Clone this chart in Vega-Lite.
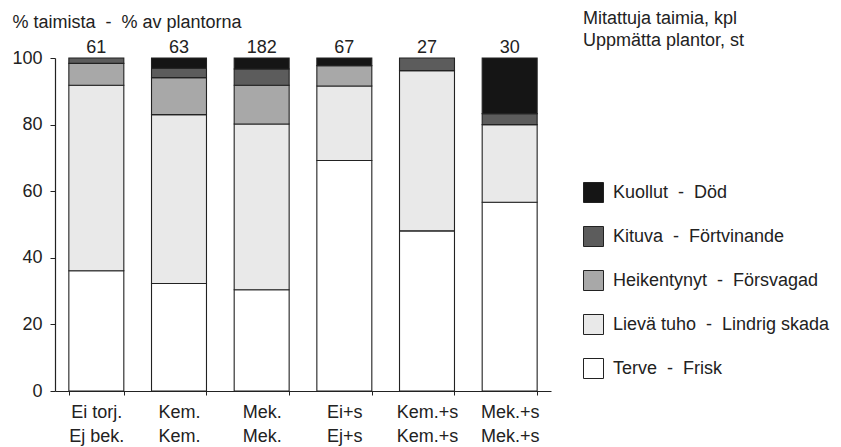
{
  "$schema": "https://vega.github.io/schema/vega-lite/v6.json",
  "autosize": "none",
  "width": 496,
  "height": 333,
  "padding": {"left": 55, "top": 58, "right": 290, "bottom": 56},
  "background": "white",
  "config": {
    "font": "Liberation Sans",
    "view": {"stroke": null},
    "axis": {"labelFontSize": 18, "labelColor": "#222", "domainColor": "#222", "tickColor": "#222", "grid": false}
  },
  "datasets": {
    "bars": [
      {"cat": "Ei torj.|Ej bek.", "state": "Terve\u00a0\u00a0-\u00a0\u00a0Frisk", "ord": 1, "pct": 36.1},
      {"cat": "Ei torj.|Ej bek.", "state": "Lievä tuho\u00a0\u00a0-\u00a0\u00a0Lindrig skada", "ord": 2, "pct": 55.7},
      {"cat": "Ei torj.|Ej bek.", "state": "Heikentynyt\u00a0\u00a0-\u00a0\u00a0Försvagad", "ord": 3, "pct": 6.6},
      {"cat": "Ei torj.|Ej bek.", "state": "Kituva\u00a0\u00a0-\u00a0\u00a0Förtvinande", "ord": 4, "pct": 1.6},
      {"cat": "Kem.|Kem.", "state": "Terve\u00a0\u00a0-\u00a0\u00a0Frisk", "ord": 1, "pct": 32.3},
      {"cat": "Kem.|Kem.", "state": "Lievä tuho\u00a0\u00a0-\u00a0\u00a0Lindrig skada", "ord": 2, "pct": 50.7},
      {"cat": "Kem.|Kem.", "state": "Heikentynyt\u00a0\u00a0-\u00a0\u00a0Försvagad", "ord": 3, "pct": 11.1},
      {"cat": "Kem.|Kem.", "state": "Kituva\u00a0\u00a0-\u00a0\u00a0Förtvinande", "ord": 4, "pct": 2.8},
      {"cat": "Kem.|Kem.", "state": "Kuollut\u00a0\u00a0-\u00a0\u00a0Död", "ord": 5, "pct": 3.1},
      {"cat": "Mek.|Mek.", "state": "Terve\u00a0\u00a0-\u00a0\u00a0Frisk", "ord": 1, "pct": 30.4},
      {"cat": "Mek.|Mek.", "state": "Lievä tuho\u00a0\u00a0-\u00a0\u00a0Lindrig skada", "ord": 2, "pct": 49.8},
      {"cat": "Mek.|Mek.", "state": "Heikentynyt\u00a0\u00a0-\u00a0\u00a0Försvagad", "ord": 3, "pct": 11.6},
      {"cat": "Mek.|Mek.", "state": "Kituva\u00a0\u00a0-\u00a0\u00a0Förtvinande", "ord": 4, "pct": 4.9},
      {"cat": "Mek.|Mek.", "state": "Kuollut\u00a0\u00a0-\u00a0\u00a0Död", "ord": 5, "pct": 3.3},
      {"cat": "Ei+s|Ej+s", "state": "Terve\u00a0\u00a0-\u00a0\u00a0Frisk", "ord": 1, "pct": 69.2},
      {"cat": "Ei+s|Ej+s", "state": "Lievä tuho\u00a0\u00a0-\u00a0\u00a0Lindrig skada", "ord": 2, "pct": 22.4},
      {"cat": "Ei+s|Ej+s", "state": "Heikentynyt\u00a0\u00a0-\u00a0\u00a0Försvagad", "ord": 3, "pct": 6.1},
      {"cat": "Ei+s|Ej+s", "state": "Kuollut\u00a0\u00a0-\u00a0\u00a0Död", "ord": 5, "pct": 2.3},
      {"cat": "Kem.+s|Kem.+s", "state": "Terve\u00a0\u00a0-\u00a0\u00a0Frisk", "ord": 1, "pct": 48.1},
      {"cat": "Kem.+s|Kem.+s", "state": "Lievä tuho\u00a0\u00a0-\u00a0\u00a0Lindrig skada", "ord": 2, "pct": 48.1},
      {"cat": "Kem.+s|Kem.+s", "state": "Kituva\u00a0\u00a0-\u00a0\u00a0Förtvinande", "ord": 4, "pct": 3.8},
      {"cat": "Mek.+s|Mek.+s", "state": "Terve\u00a0\u00a0-\u00a0\u00a0Frisk", "ord": 1, "pct": 56.7},
      {"cat": "Mek.+s|Mek.+s", "state": "Lievä tuho\u00a0\u00a0-\u00a0\u00a0Lindrig skada", "ord": 2, "pct": 23.3},
      {"cat": "Mek.+s|Mek.+s", "state": "Kituva\u00a0\u00a0-\u00a0\u00a0Förtvinande", "ord": 4, "pct": 3.3},
      {"cat": "Mek.+s|Mek.+s", "state": "Kuollut\u00a0\u00a0-\u00a0\u00a0Död", "ord": 5, "pct": 16.7}
    ],
    "counts": [
      {"cat": "Ei torj.|Ej bek.", "n": 61},
      {"cat": "Kem.|Kem.", "n": 63},
      {"cat": "Mek.|Mek.", "n": 182},
      {"cat": "Ei+s|Ej+s", "n": 67},
      {"cat": "Kem.+s|Kem.+s", "n": 27},
      {"cat": "Mek.+s|Mek.+s", "n": 30}
    ]
  },
  "encoding": {
    "x": {
      "field": "cat", "type": "nominal",
      "scale": {"domain": ["Ei torj.|Ej bek.", "Kem.|Kem.", "Mek.|Mek.", "Ei+s|Ej+s", "Kem.+s|Kem.+s", "Mek.+s|Mek.+s"], "paddingInner": 0.335, "paddingOuter": 0.1675},
      "axis": {"title": null, "labelAngle": 0, "labelExpr": "split(datum.label, '|')", "labelLineHeight": 24, "tickBand": "extent", "tickSize": 4, "labelPadding": 8, "labelBaseline": "top", "domainWidth": 1.2}
    }
  },
  "layer": [
    {
      "data": {"name": "bars"},
      "mark": {"type": "bar", "stroke": "#222", "strokeWidth": 1.1},
      "encoding": {
        "y": {
          "field": "pct", "type": "quantitative", "stack": "zero",
          "scale": {"domain": [0, 100], "nice": false},
          "axis": {"values": [0, 20, 40, 60, 80, 100], "tickSize": 5, "labelPadding": 8, "domainWidth": 1.2,
                   "title": "% taimista\u00a0\u00a0-\u00a0\u00a0% av plantorna", "titleAngle": 0, "titleAlign": "left", "titleBaseline": "alphabetic",
                   "titleX": -43, "titleY": -31, "titleFontSize": 18, "titleFontWeight": "normal", "titleColor": "#222"}
        },
        "order": {"field": "ord", "type": "quantitative"},
        "color": {
          "field": "state", "type": "nominal",
          "scale": {
            "domain": ["Kuollut\u00a0\u00a0-\u00a0\u00a0Död", "Kituva\u00a0\u00a0-\u00a0\u00a0Förtvinande", "Heikentynyt\u00a0\u00a0-\u00a0\u00a0Försvagad", "Lievä tuho\u00a0\u00a0-\u00a0\u00a0Lindrig skada", "Terve\u00a0\u00a0-\u00a0\u00a0Frisk"],
            "range": ["#151515", "#5c5c5c", "#a8a8a8", "#e9e9e9", "#ffffff"]
          },
          "legend": {
            "orient": "none", "legendX": 528, "legendY": -48,
            "title": ["Mitattuja taimia, kpl", "Uppmätta plantor, st"],
            "titleFontSize": 18, "titleFontWeight": "normal", "titleColor": "#222", "titleLineHeight": 22, "titleBaseline": "top", "titlePadding": 132,
            "labelFontSize": 18, "labelColor": "#222", "labelOffset": 9, "labelLimit": 400,
            "symbolType": "square", "symbolSize": 400, "symbolStrokeColor": "#222", "symbolStrokeWidth": 1,
            "rowPadding": 19, "padding": 0
          }
        }
      }
    },
    {
      "data": {"name": "counts"},
      "mark": {"type": "text", "fontSize": 18, "color": "#222", "baseline": "alphabetic", "dy": -5},
      "encoding": {
        "y": {"datum": 100, "type": "quantitative"},
        "text": {"field": "n", "type": "quantitative"}
      }
    }
  ]
}
